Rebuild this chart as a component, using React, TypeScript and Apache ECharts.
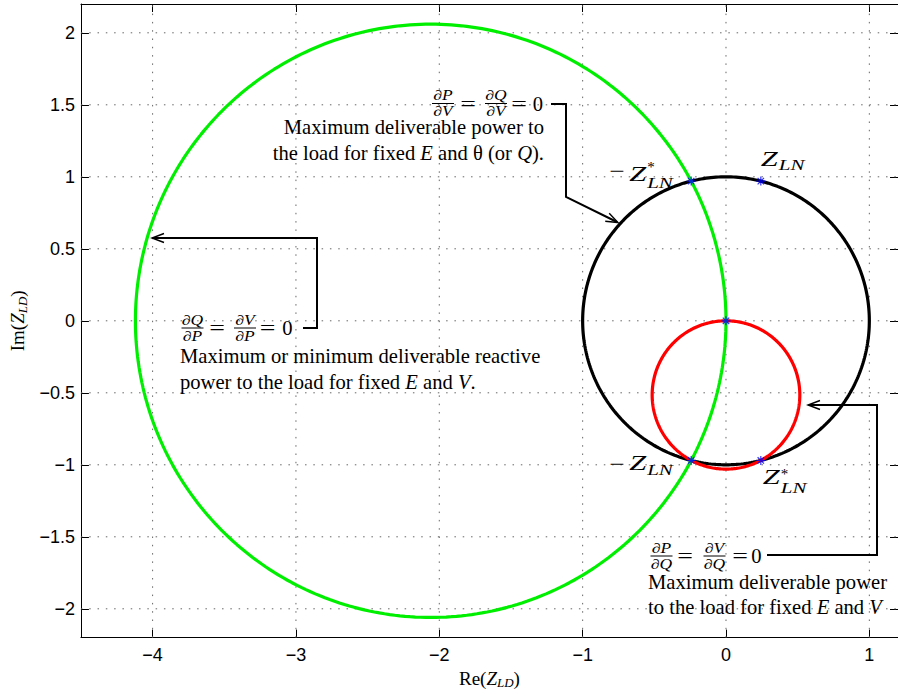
import React, { useEffect, useRef } from 'react';
import * as echarts from 'echarts';

// Axis ranges and ticks
const X_MIN = -4.5;
const X_MAX = 1.2;
const Y_MIN = -2.2;
const Y_MAX = 2.2;
const xTicks = [-4, -3, -2, -1, 0, 1];
const yTicks = [-2, -1.5, -1, -0.5, 0, 0.5, 1, 1.5, 2];

// Loci in the Z_LD plane: |Z_LD| = |Z_LN| (black), Q-locus (red), P-locus (green)
const circleNames = ['dP/dV = dQ/dV = 0', 'dP/dQ = dV/dQ = 0', 'dQ/dP = dV/dP = 0'];
const circleCenterRe = [0, 0, -2.06];
const circleCenterIm = [0, -0.515, 0];
const circleRadius = [1, 0.515, 2.06];
const circleColors = ['#000000', '#ff0000', '#00ee00'];

// Marked points: Z_LN, -Z_LN*, -Z_LN, Z_LN*, origin
const pointRe = [0.243, -0.243, -0.243, 0.243, 0];
const pointIm = [0.97, 0.97, -0.97, -0.97, 0];

const SERIF = '"Liberation Serif", "Times New Roman", Times, serif';
const SANS = '"Liberation Sans", Arial, Helvetica, sans-serif';
const BODY = 20.6;

const fmtTick = (v: number) => String(v).replace('-', '\u2212');

function circlePoints(cx: number, cy: number, r: number, n = 360) {
  const pts: number[][] = [];
  for (let i = 0; i <= n; i++) {
    const t = (2 * Math.PI * i) / n;
    pts.push([cx + r * Math.cos(t), cy + r * Math.sin(t)]);
  }
  return pts;
}

const txt = (x: number, y: number, s: string, o: any = {}) => ({
  type: 'text',
  x,
  y,
  z: 10,
  silent: true,
  scaleX: o.scaleX ?? 1,
  style: {
    text: s,
    fill: '#000',
    fontFamily: SERIF,
    fontSize: BODY,
    lineHeight: 17,
    align: 'left',
    verticalAlign: 'middle',
    ...o.style,
  },
});

const seg = (pts: number[][], w = 2) => ({
  type: 'polyline',
  z: 10,
  silent: true,
  shape: { points: pts },
  style: { stroke: '#000', lineWidth: w, fill: null },
});

function arrowHead(tip: number[], from: number[], len = 12, half = 4.5) {
  const dx = tip[0] - from[0];
  const dy = tip[1] - from[1];
  const L = Math.hypot(dx, dy);
  const ux = dx / L;
  const uy = dy / L;
  const bx = tip[0] - ux * len;
  const by = tip[1] - uy * len;
  return seg(
    [
      [bx - uy * half, by + ux * half],
      tip,
      [bx + uy * half, by - ux * half],
    ],
    1.4
  );
}

const fracStyle = { fontSize: 14, fontStyle: 'italic', align: 'center', lineHeight: 12 };

function frac(xc: number, yb: number, num: string, den: string, half = 11) {
  return [
    txt(xc, yb - 2, num, { scaleX: 1.25, style: { ...fracStyle, verticalAlign: 'bottom' } }),
    {
      type: 'line',
      z: 10,
      silent: true,
      shape: { x1: xc - half, y1: yb, x2: xc + half, y2: yb },
      style: { stroke: '#000', lineWidth: 1 },
    },
    txt(xc, yb + 2, den, { scaleX: 1.25, style: { ...fracStyle, verticalAlign: 'top' } }),
  ];
}

// a/b = c/d = 0 ; xs: [frac1, eq1, frac2, eq2, zero]
function equation(xs: number[], yb: number, n1: string, d1: string, n2: string, d2: string) {
  return [
    ...frac(xs[0], yb, n1, d1),
    txt(xs[1], yb, '=', { scaleX: 1.35, style: { align: 'center' } }),
    ...frac(xs[2], yb, n2, d2),
    txt(xs[3], yb, '=', { scaleX: 1.35, style: { align: 'center' } }),
    txt(xs[4], yb, '0', { style: { align: 'center' } }),
  ];
}

const richItalic = { i: { fontStyle: 'italic', fontFamily: SERIF, fontSize: BODY, fill: '#000', lineHeight: 17 } };

// Z label next to a marked point
function zLabel(
  sx: number,
  sy: number,
  o: { zx: number; zy: number; subY: number; minus?: boolean; minusY?: number; star?: boolean; starY?: number }
) {
  const zLeft = sx + o.zx;
  const els: any[] = [];
  if (o.minus)
    els.push(txt(zLeft - 20, sy + (o.minusY ?? 0), '\u2212', { scaleX: 1.3, style: { fontSize: 21, lineHeight: 14 } }));
  els.push(txt(zLeft, sy + o.zy, 'Z', { scaleX: 1.45, style: { fontSize: 21, fontStyle: 'italic', lineHeight: 16 } }));
  if (o.star) els.push(txt(zLeft + 18, sy + (o.starY ?? 0), '*', { style: { fontSize: 15, lineHeight: 10 } }));
  els.push(txt(zLeft + 18, sy + o.subY, 'LN', { scaleX: 1.4, style: { fontSize: 15, fontStyle: 'italic', lineHeight: 12 } }));
  return els;
}

const nameRich = {
  n: { fontFamily: SERIF, fontSize: 19, color: '#000' },
  z: { fontFamily: SERIF, fontSize: 19, fontStyle: 'italic', color: '#000' },
  s: { fontFamily: SERIF, fontSize: 13, fontStyle: 'italic', color: '#000', padding: [9, 0, 0, 0] },
};

export default function App() {
  const ref = useRef<HTMLDivElement>(null);

  useEffect(() => {
    const chart = echarts.init(ref.current!, null, { renderer: 'svg' });

    const gridSeries: any[] = [
      ...xTicks.map((v) => [
        [v, Y_MIN],
        [v, Y_MAX],
      ]),
      ...yTicks.map((v) => [
        [X_MIN, v],
        [X_MAX, v],
      ]),
    ].map((data) => ({
      type: 'line',
      data,
      showSymbol: false,
      silent: true,
      z: 1,
      lineStyle: { color: '#666', width: 1, type: [1.5, 6.8] },
    }));

    const circleSeries = circleRadius.map((r, i) => ({
      type: 'line',
      name: circleNames[i],
      data: circlePoints(circleCenterRe[i], circleCenterIm[i], r),
      showSymbol: false,
      silent: true,
      z: 2 + i,
      lineStyle: { color: circleColors[i], width: 3.2 },
    }));

    const axisBase = {
      type: 'value',
      axisLine: { show: true, onZero: false, lineStyle: { color: '#000', width: 1 } },
      splitLine: { show: false },
    };

    chart.setOption({
      animation: false,
      backgroundColor: '#fff',
      grid: { left: 77, top: 4, width: 823, height: 637, containLabel: false },
      xAxis: [
        {
          ...axisBase,
          min: X_MIN,
          max: X_MAX,
          position: 'bottom',
          axisTick: { show: true, inside: true, length: 8, customValues: xTicks, lineStyle: { color: '#000' } },
          axisLabel: {
            customValues: xTicks,
            formatter: (v: number) => fmtTick(v),
            color: '#000',
            fontSize: 18,
            fontFamily: SANS,
            margin: 8,
          },
          name: '{n|Re(}{z|Z}{s|LD}{n|)}',
          nameLocation: 'middle',
          nameGap: 27,
          nameTextStyle: { color: '#000', fontFamily: SERIF, fontSize: 19, rich: nameRich },
        },
        {
          ...axisBase,
          min: X_MIN,
          max: X_MAX,
          position: 'top',
          axisTick: { show: true, inside: true, length: 8, customValues: xTicks, lineStyle: { color: '#000' } },
          axisLabel: { show: false },
        },
      ],
      yAxis: [
        {
          ...axisBase,
          min: Y_MIN,
          max: Y_MAX,
          position: 'left',
          axisTick: { show: true, inside: true, length: 8, customValues: yTicks, lineStyle: { color: '#000' } },
          axisLabel: {
            customValues: yTicks,
            formatter: (v: number) => fmtTick(v),
            color: '#000',
            fontSize: 18,
            fontFamily: SANS,
            margin: 6,
          },
          name: '{n|Im(}{z|Z}{s|LD}{n|)}',
          nameLocation: 'middle',
          nameGap: 49,
          nameRotate: 90,
          nameTextStyle: { color: '#000', fontFamily: SERIF, fontSize: 19, rich: nameRich },
        },
        {
          ...axisBase,
          min: Y_MIN,
          max: Y_MAX,
          position: 'right',
          axisTick: { show: true, inside: true, length: 8, customValues: yTicks, lineStyle: { color: '#000' } },
          axisLabel: { show: false },
        },
      ],
      series: [
        ...gridSeries,
        ...circleSeries,
        {
          type: 'scatter',
          name: 'points',
          data: pointRe.map((re, i) => [re, pointIm[i]]),
          symbol: 'path://M4.5 0L4.5 9M0 4.5L9 4.5M1.3 1.3L7.7 7.7M1.3 7.7L7.7 1.3',
          symbolSize: 9,
          z: 8,
          silent: true,
          itemStyle: { color: 'rgba(0,0,0,0)', borderColor: '#0000ff', borderWidth: 1.2 },
        },
      ],
    });

    const px = (i: number) =>
      chart.convertToPixel({ xAxisIndex: 0, yAxisIndex: 0 }, [pointRe[i], pointIm[i]]) as number[];
    const [p0, p1, p2, p3] = [px(0), px(1), px(2), px(3)];

    const elements: any[] = [
      // point labels
      ...zLabel(p0[0], p0[1], { zx: 0, zy: -22, subY: -16 }),
      ...zLabel(p1[0], p1[1], { zx: -62, zy: -7, subY: 2, minus: true, minusY: -10, star: true, starY: -14 }),
      ...zLabel(p2[0], p2[1], { zx: -62, zy: 3, subY: 10, minus: true, minusY: 3 }),
      ...zLabel(p3[0], p3[1], { zx: 2, zy: 17, subY: 28, star: true, starY: 14 }),

      // dP/dV = dQ/dV = 0
      ...equation([443, 468, 496, 519, 538], 103.5, '\u2202P', '\u2202V', '\u2202Q', '\u2202V'),
      seg([
        [551, 104],
        [566, 104],
        [566, 197],
        [617, 222],
      ]),
      arrowHead([618, 222.5], [566, 197]),
      txt(544, 127, 'Maximum deliverable power to', { style: { align: 'right' } }),
      txt(544, 153, 'the load for fixed {i|E} and \u03b8 (or {i|Q}).', {
        style: { align: 'right', rich: richItalic },
      }),

      // dQ/dP = dV/dP = 0
      ...equation([192.5, 217, 245, 267.5, 287.5], 328, '\u2202Q', '\u2202P', '\u2202V', '\u2202P'),
      seg([
        [303, 328],
        [317, 328],
        [317, 238],
        [153, 238],
      ]),
      arrowHead([152, 238], [317, 238]),
      txt(180, 356, 'Maximum or minimum deliverable reactive'),
      txt(180, 382, 'power to the load for fixed {i|E} and {i|V}.', { style: { rich: richItalic } }),

      // dP/dQ = dV/dQ = 0
      ...equation([661.5, 685, 714.5, 740, 756.5], 556, '\u2202P', '\u2202Q', '\u2202V', '\u2202Q'),
      seg([
        [767, 555],
        [877, 555],
        [877, 405],
        [809, 405],
      ]),
      arrowHead([808, 405], [877, 405]),
      txt(648, 582, 'Maximum deliverable power'),
      txt(648, 607, 'to the load for fixed {i|E} and {i|V}', { style: { rich: richItalic } }),
    ];

    chart.setOption({ graphic: { elements } });

    return () => chart.dispose();
  }, []);

  return (
    <div
      ref={ref}
      style={{ position: 'absolute', left: 0, top: 0, width: 898, height: 694, background: '#fff' }}
    />
  );
}
